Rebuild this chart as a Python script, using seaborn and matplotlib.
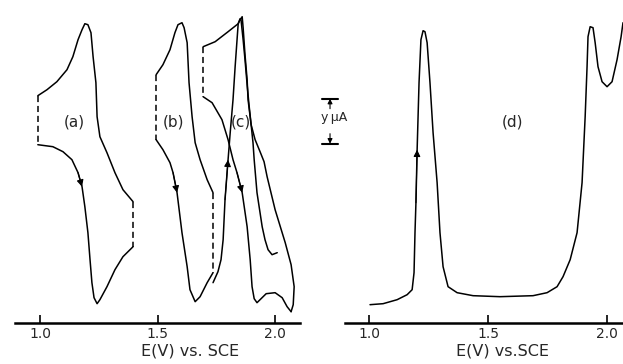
import pandas as pd
import matplotlib.pyplot as plt
import seaborn as sns

# potentials in V vs SCE, current in arbitrary chart units (baseline = 0)
a_top_E = [0.991, 1.030, 1.072, 1.115, 1.140, 1.162, 1.179, 1.191, 1.204, 1.217, 1.226, 1.238, 1.243, 1.255, 1.285, 1.319, 1.353, 1.396]
a_top_i = [227, 233, 241, 253, 266, 283, 293, 299, 298, 290, 266, 240, 206, 186, 170, 150, 133, 121]
a_bot_E = [0.991, 1.055, 1.098, 1.136, 1.162, 1.179, 1.191, 1.204, 1.213, 1.221, 1.230, 1.243, 1.255, 1.285, 1.319, 1.353, 1.396]
a_bot_i = [178, 176, 171, 163, 150, 136, 116, 90, 63, 40, 25, 19, 23, 36, 53, 66, 76]

b_top_E = [1.494, 1.523, 1.553, 1.574, 1.587, 1.604, 1.613, 1.626, 1.634, 1.647, 1.660, 1.681, 1.711, 1.736]
b_top_i = [248, 258, 273, 290, 298, 300, 295, 280, 240, 206, 180, 163, 143, 130]
b_bot_E = [1.494, 1.523, 1.553, 1.566, 1.583, 1.604, 1.626, 1.638, 1.660, 1.681, 1.711, 1.736]
b_bot_i = [183, 173, 160, 150, 130, 90, 56, 33, 21, 26, 40, 50]

c_top_E = [1.694, 1.745, 1.800, 1.843, 1.851, 1.860, 1.864, 1.872, 1.881, 1.885, 1.898, 1.915, 1.936, 1.953, 1.966, 2.000, 2.043, 2.068, 2.081, 2.077, 2.068]
c_top_i = [276, 281, 291, 299, 303, 306, 295, 268, 243, 223, 198, 183, 171, 161, 146, 113, 80, 58, 36, 18, 11]
c_bot_E = [1.694, 1.732, 1.774, 1.800, 1.821, 1.838, 1.860, 1.881, 1.894, 1.902, 1.911, 1.923, 1.936, 1.962, 2.000, 2.030, 2.051, 2.068]
c_bot_i = [226, 220, 203, 183, 163, 150, 130, 96, 63, 36, 24, 20, 23, 29, 30, 25, 16, 11]
c_scan2_E = [1.736, 1.757, 1.770, 1.779, 1.787, 1.800, 1.809, 1.821, 1.830, 1.843, 1.851, 1.855, 1.864, 1.872, 1.881, 1.889, 1.898, 1.906, 1.911, 1.923, 1.945, 1.957, 1.970, 1.987, 2.009]
c_scan2_i = [40, 51, 63, 83, 123, 163, 190, 223, 256, 299, 304, 303, 283, 263, 238, 218, 198, 180, 163, 130, 96, 83, 73, 68, 70]

d_E = [1.004, 1.059, 1.118, 1.160, 1.181, 1.189, 1.193, 1.197, 1.202, 1.210, 1.218, 1.227, 1.235, 1.244, 1.256, 1.269, 1.286, 1.298, 1.311, 1.332, 1.370, 1.437, 1.550, 1.689, 1.748, 1.790, 1.815, 1.845, 1.874, 1.895, 1.908, 1.916, 1.920, 1.929, 1.941, 1.950, 1.962, 1.979, 2.000, 2.021, 2.042, 2.059, 2.067]
d_i = [18, 19, 23, 28, 33, 50, 90, 120, 173, 240, 283, 292, 291, 280, 240, 190, 140, 90, 56, 36, 30, 27, 26, 27, 30, 36, 46, 63, 90, 140, 206, 256, 286, 296, 295, 280, 256, 241, 236, 241, 263, 286, 300]

tick_vals = [1.0, 1.5, 2.0]
tick_labels = ['1.0', '1.5', '2.0']

sns.set_style('white')
plt.rcParams['font.family'] = ['DejaVu Sans']

LW = 1.1


def trace(ax, E, i, dashed=False):
    df = pd.DataFrame({'E': E, 'i': i})
    sns.lineplot(data=df, x='E', y='i', sort=False, estimator=None, ax=ax,
                 color='black', lw=LW, dashes=False, clip_on=False,
                 solid_joinstyle='round',
                 linestyle=(0, (4, 2.5)) if dashed else '-')


def arrow(ax, E, i, k):
    # arrowhead on the curve at point k, pointing along the scan
    ax.annotate('', xy=(E[k], i[k]), xytext=(E[k - 1], i[k - 1]),
                arrowprops=dict(arrowstyle='-|>', color='black', lw=0.8,
                                mutation_scale=10, shrinkA=0, shrinkB=0))


def loop(ax, topE, topi, botE, boti, right_dash=True):
    trace(ax, topE, topi)
    trace(ax, botE, boti)
    trace(ax, [topE[0], botE[0]], [topi[0], boti[0]], dashed=True)
    if right_dash:
        trace(ax, [topE[-1], botE[-1]], [topi[-1], boti[-1]], dashed=True)


def style_axis(ax, xlim, label, label_x):
    ax.set_xlim(*xlim)
    ax.set_ylim(0, 312.7)
    for s in ['left', 'top', 'right']:
        ax.spines[s].set_visible(False)
    ax.spines['bottom'].set_linewidth(1.8)
    ax.spines['bottom'].set_color('black')
    ax.set_yticks([])
    ax.set_ylabel('')
    ax.set_xticks(tick_vals)
    ax.set_xticklabels(tick_labels)
    ax.tick_params(axis='x', direction='in', length=6, width=1.2,
                   pad=3, labelsize=10, color='black', bottom=True)
    ax.set_xlabel(label, fontsize=11.5)
    ax.xaxis.set_label_coords(label_x, -0.066)


fig = plt.figure(figsize=(6.23, 3.64), dpi=100)
ax1 = fig.add_axes([0.0241, 0.1135, 0.4575, 0.859])
ax2 = fig.add_axes([0.5538, 0.1135, 0.4462, 0.859])

loop(ax1, a_top_E, a_top_i, a_bot_E, a_bot_i)
loop(ax1, b_top_E, b_top_i, b_bot_E, b_bot_i)
loop(ax1, c_top_E, c_top_i, c_bot_E, c_bot_i, right_dash=False)
trace(ax1, c_scan2_E, c_scan2_i)
arrow(ax1, a_bot_E, a_bot_i, 5)
arrow(ax1, b_bot_E, b_bot_i, 4)
arrow(ax1, c_bot_E, c_bot_i, 6)
arrow(ax1, c_scan2_E, c_scan2_i, 5)

for lab, x in [('(a)', 1.145), ('(b)', 1.570), ('(c)', 1.855)]:
    ax1.text(x, 201, lab, ha='center', va='center', fontsize=11)
style_axis(ax1, (0.894, 2.106), 'E(V) vs. SCE', 0.614)

trace(ax2, d_E, d_i)
arrow(ax2, d_E, d_i, 8)
ax2.text(1.601, 201, '(d)', ha='center', va='center', fontsize=11)
style_axis(ax2, (0.899, 2.067), 'E(V) vs.SCE', 0.565)

# current scale bar
for yb in [224, 179]:
    ax2.plot([0.803, 0.870], [yb, yb], color='black', lw=1.5, clip_on=False)
ax2.annotate('', xy=(0.836, 224), xytext=(0.836, 214), annotation_clip=False,
             arrowprops=dict(arrowstyle='-|>', color='black', lw=0.8,
                             mutation_scale=7, shrinkA=0, shrinkB=0))
ax2.annotate('', xy=(0.836, 179), xytext=(0.836, 189), annotation_clip=False,
             arrowprops=dict(arrowstyle='-|>', color='black', lw=0.8,
                             mutation_scale=7, shrinkA=0, shrinkB=0))
ax2.text(0.796, 205, 'y\u2009\u03bcA', ha='left', va='center', fontsize=9)

plt.savefig('out.png', dpi=100)
